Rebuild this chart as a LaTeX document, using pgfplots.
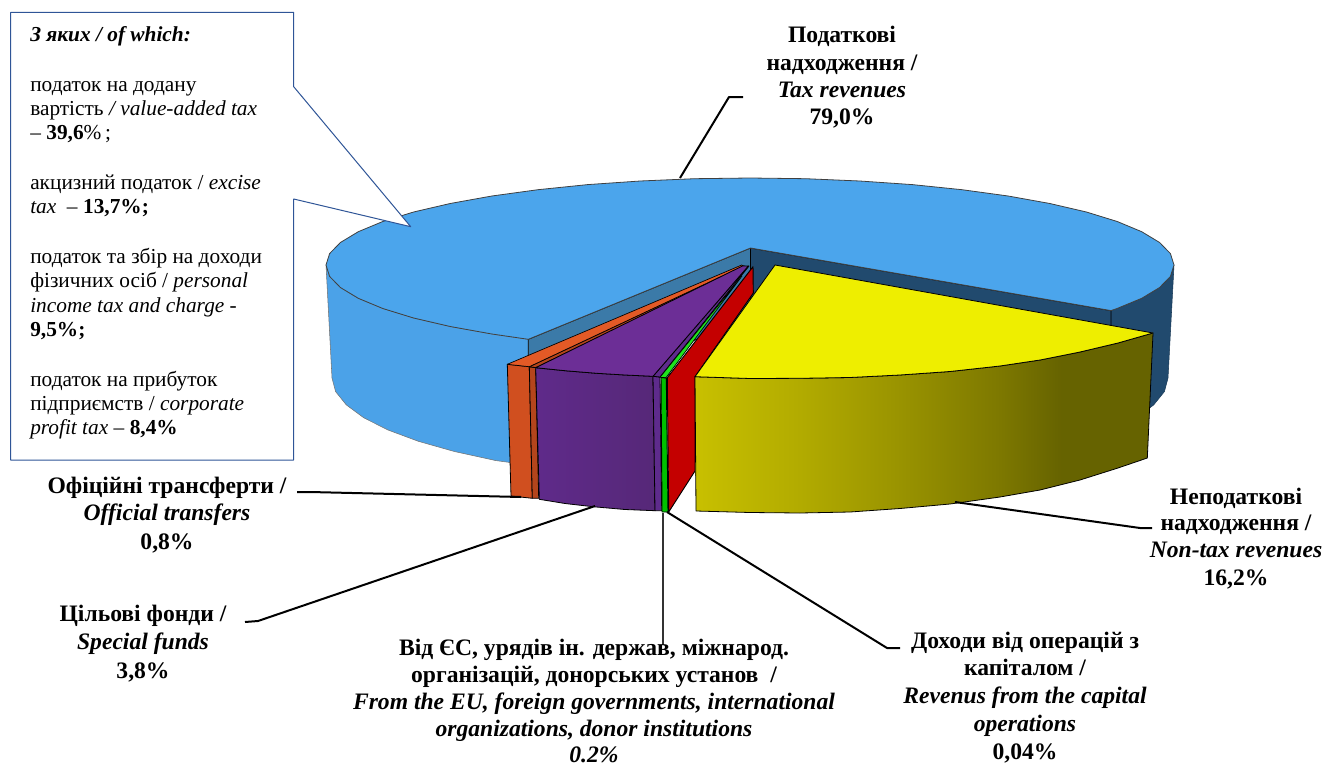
\documentclass[border=0pt]{standalone}
\usepackage{fontspec}
\setmainfont{Liberation Serif}
\usepackage{pgfplots}
\pgfplotsset{compat=1.18}

\definecolor{bluetop}{HTML}{4BA5EC}
\definecolor{bluewall}{HTML}{4BA2E8}
\definecolor{blueface}{HTML}{3B7AA8}
\definecolor{bluedark}{HTML}{214A6E}
\definecolor{orangetop}{HTML}{E35A26}
\definecolor{orangefront}{HTML}{D04F1F}
\definecolor{orangeside}{HTML}{B4451C}
\definecolor{purpletop}{HTML}{6C2E96}
\definecolor{purpleside}{HTML}{5E2B8C}
\definecolor{purpleleft}{HTML}{5F2A8A}
\definecolor{purpleright}{HTML}{562878}
\definecolor{greentop}{HTML}{1EE41E}
\definecolor{greenfront}{HTML}{00C000}
\definecolor{redface}{HTML}{C40000}
\definecolor{yellowtop}{HTML}{EEEE00}
\definecolor{boxline}{HTML}{2F5597}
\definecolor{y1}{HTML}{C8C000}
\definecolor{y2}{HTML}{B3AC00}
\definecolor{y3}{HTML}{9A9400}
\definecolor{y4}{HTML}{7E7900}
\definecolor{y5}{HTML}{666300}
\pgfdeclarehorizontalshading{yellowwall}{100bp}{color(0bp)=(y1); color(25bp)=(y1); color(36bp)=(y2); color(47bp)=(y3); color(58bp)=(y4); color(65bp)=(y5); color(100bp)=(y5)}

% one line of a bold label, centred, at its baseline in pixels
\newcommand{\lab}[3]{\node[anchor=base,inner sep=0pt] at (axis cs:#1,#2) {\fontsize{17.7}{20}\selectfont\bfseries #3};}
% one line of the callout box
\newcommand{\boxl}[2]{\node[anchor=base west,inner sep=0pt] at (axis cs:30,#1) {\fontsize{16}{19}\selectfont #2};}

\begin{document}
\begin{tikzpicture}
% hide axis drops the axis from the bounding box, so keep the full page here
\path[use as bounding box] (0,0) rectangle (992.25pt,575.25pt);
\begin{axis}[
    at={(0,0)}, anchor=south west,
    scale only axis,
    width=992.25pt, height=575.25pt,
    xmin=0, xmax=1323, ymin=0, ymax=767,
    y dir=reverse,
    hide axis,
    line join=round,
]
% blue slice, outer wall on the left
\addplot[fill=bluewall,draw=black!55,line width=0.4pt] coordinates {
    (326,265) (329.6,276.4) (340.4,287.5) (358.3,298.3) (382.8,308.5) (413.6,318) (450.2,326.5) (491.9,334) (528.3,339.3)
    (528.3,465) (495.5,460.5) (454.4,451.5) (418.4,441.3) (388,430) (363.8,417.8) (346.3,404.9) (335.6,391.6) (332,378) (326,265)
} -- cycle;
% blue slice, outer wall on the right
\addplot[fill=bluedark,draw=bluedark!80!black,line width=0.4pt] coordinates {
    (1111,310.6) (1117,308.5) (1141.7,298.3) (1159.6,287.5) (1170.4,276.4) (1174,265)
    (1168,378) (1164.4,391.6) (1153.7,404.9) (1136,418) (1111,430) (1111,310.6)
} -- cycle;
% blue slice, cut faces
\addplot[fill=blueface,draw=black,line width=0.6pt] coordinates {
    (750.5,248) (528.3,339.3) (528.3,400) (750.5,320) (750.5,248)
} -- cycle;
\addplot[fill=bluedark,draw=black,line width=0.6pt] coordinates {
    (750.5,248) (1111,310.6) (1111,340) (753,300) (750.5,300) (750.5,248)
} -- cycle;
% blue slice, top
\addplot[fill=bluetop,draw=black!75,line width=0.6pt] coordinates {
    (750.5,248) (1111,310.6) (1117,308.5) (1141.7,298.3) (1159.6,287.5) (1170.4,276.4) (1174,265)
    (1170.4,253.6) (1159.6,242.5) (1141.7,231.7) (1117.2,221.5) (1086.4,212) (1049.8,203.5) (1008.1,196) (962,189.7) (912.3,184.6) (859.7,181) (805.3,178.7)
    (750,178) (694.7,178.7) (640.3,181) (587.7,184.6) (538,189.7) (491.9,196) (450.2,203.5) (413.6,212) (382.8,221.5) (358.3,231.7) (340.4,242.5) (329.6,253.6)
    (326,265) (329.6,276.4) (340.4,287.5) (358.3,298.3) (382.8,308.5) (413.6,318) (450.2,326.5) (491.9,334) (528.3,339.3) (750.5,248)
} -- cycle;
% orange slice
\addplot[fill=orangefront,draw=black,line width=0.6pt] coordinates {
    (507.3,364.3) (529.3,366.7) (532.3,498.3) (511,496) (507.3,364.3)
} -- cycle;
\addplot[fill=orangeside,draw=black,line width=0.6pt] coordinates {
    (529.3,366.7) (535.7,367.7) (538.7,498.3) (532.3,498.3) (529.3,366.7)
} -- cycle;
\addplot[fill=orangeside,draw=black,line width=0.6pt] coordinates {
    (529.3,366.7) (535.7,367.7) (745,266) (743.5,266) (529.3,366.7)
} -- cycle;
\addplot[fill=orangetop,draw=black,line width=0.5pt] coordinates {
    (741.7,265) (507.3,364.3) (529.3,366.7) (743.5,266) (741.7,265)
} -- cycle;
% purple slice
\addplot[left color=purpleleft,right color=purpleright,draw=black,line width=0.6pt] coordinates {
    (535.7,367.7) (566,370.8) (596.7,373.3) (625,375) (653,376.3) (655,510.7) (625,509.5) (593,506.7) (565,503.5) (539.3,499.3) (535.7,367.7)
} -- cycle;
\addplot[fill=purpleside,draw=black,line width=0.6pt] coordinates {
    (653,376.3) (660,377) (661.7,510.7) (655,510.7) (653,376.3)
} -- cycle;
\addplot[fill=purpleside,draw=black,line width=0.6pt] coordinates {
    (653,376.3) (660,377) (749,266) (748.3,266) (653,376.3)
} -- cycle;
\addplot[fill=purpletop,draw=black,line width=0.6pt] coordinates {
    (535.7,367.7) (566,370.8) (596.7,373.3) (625,375) (653,376.3) (748.3,266) (742.5,266) (535.7,367.7)
} -- cycle;
% green slice
\addplot[fill=greentop,draw=black,line width=0.5pt] coordinates {
    (660,377.3) (666,377.7) (742,276) (660,377.3)
} -- cycle;
\addplot[fill=greenfront,draw=black,line width=0.7pt] coordinates {
    (661,377.5) (666.3,378) (668,512) (662,512) (661,377.5)
} -- cycle;
% red face of the smallest slice
\addplot[fill=redface,draw=black,line width=0.7pt] coordinates {
    (753,266.7) (753.3,293) (695,376.7) (695,471) (668.7,512) (667.3,377.7) (753,266.7)
} -- cycle;
% yellow slice
\addplot[shade,shading=yellowwall,draw=black,line width=0.6pt] coordinates {
    (695,376.7) (750,378.5) (800,378.3) (850,377.5) (900,375) (950,371.5) (1000,366) (1040,360) (1080,352) (1118,343) (1153,333)
    (1147.3,458) (1118,468) (1080,480) (1040,490) (1000,497) (950,504) (900,508.5) (850,512) (800,513) (750,512.5) (696,511) (695,376.7)
} -- cycle;
\addplot[fill=yellowtop,draw=black,line width=0.6pt] coordinates {
    (775,265) (695,376.7) (750,378.5) (800,378.3) (850,377.5) (900,375) (950,371.5) (1000,366) (1040,360) (1080,352) (1118,343) (1153,333) (775,265)
} -- cycle;
% leader lines
\addplot[black,line width=1.5pt] coordinates {(680,178) (729,97) (743,97)};
\addplot[black,line width=1.5pt] coordinates {(955,502) (1140,528) (1152,528)};
\addplot[black,line width=1.5pt] coordinates {(297,492) (310,492) (521,497)};
\addplot[black,line width=1.5pt] coordinates {(245,622) (258,621) (595,506)};
\addplot[black!80,line width=1.5pt] coordinates {(663,513) (663,645)};
\addplot[black,line width=1.5pt] coordinates {(667,512) (887,648) (900,648)};
% callout box
\addplot[fill=white,draw=boxline,line width=0.75pt] coordinates {
    (10.7,12.3) (293.7,12.3) (293.7,86.7) (410.7,226.7) (293.7,199) (293.7,460) (10.7,460) (10.7,12.3)
} -- cycle;

\boxl{42}{\textbf{\textit{З яких / of which:}}}
\boxl{91}{податок на додану}
\boxl{115}{вартість \textit{/ value-added tax}}
\boxl{139}{– \textbf{39,6}\%\,;}
\boxl{189}{акцизний податок / \textit{excise}}
\boxl{213}{\textit{tax}\ \ – \textbf{13,7\%;}}
\boxl{263}{податок та збір на доходи}
\boxl{287}{фізичних осіб / \textit{personal}}
\boxl{312}{\textit{income tax and charge -}}
\boxl{336}{\textbf{9,5\%;}}
\boxl{386}{податок на прибуток}
\boxl{410}{підприємств / \textit{corporate}}
\boxl{434}{\textit{profit tax} – \textbf{8,4\%}}

\lab{842}{43}{Податкові}
\lab{842}{70}{надходження /}
\lab{842}{97}{\textit{Tax revenues}}
\lab{842}{124}{79,0\%}

\lab{1236}{504}{Неподаткові}
\lab{1236}{530}{надходження /}
\lab{1236}{557}{\textit{Non-tax revenues}}
\lab{1236}{585}{16,2\%}

\lab{167}{493}{Офіційні трансферти /}
\lab{167}{520}{\textit{Official transfers}}
\lab{167}{549}{0,8\%}

\lab{143}{621}{Цільові фонди /}
\lab{143}{649}{\textit{Special funds}}
\lab{143}{678}{3,8\%}

\lab{594}{655}{Від ЄС, урядів ін. держав, міжнарод.}
\lab{594}{682}{організацій, донорських установ\ \ /}
\lab{594}{709}{\textit{From the EU, foreign governments, international}}
\lab{594}{736}{\textit{organizations, donor institutions}}
\lab{594}{762}{\textit{0.2\%}}

\lab{1025}{648}{Доходи від операцій з}
\lab{1025}{675}{капіталом /}
\lab{1025}{703}{\textit{Revenus from the capital}}
\lab{1025}{731}{\textit{operations}}
\lab{1025}{759}{0,04\%}
\end{axis}
\end{tikzpicture}
\end{document}
